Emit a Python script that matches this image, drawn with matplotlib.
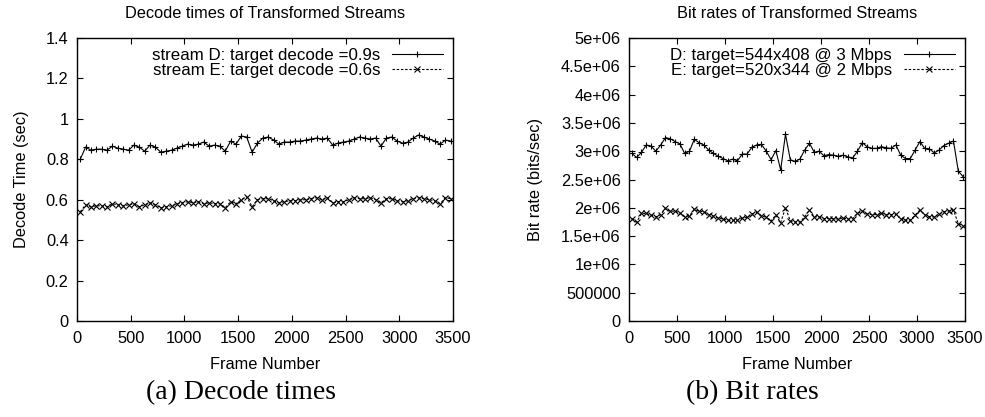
import numpy as np
import matplotlib
matplotlib.use("Agg")
import matplotlib.pyplot as plt

plt.rcParams['font.family'] = ['Liberation Sans', 'DejaVu Sans']

# ---------------- data ----------------
frames = np.arange(30, 3500, 50)  # 70 sample frames

decode_D = [0.80, 0.86, 0.845, 0.85, 0.85, 0.845, 0.865, 0.855, 0.85, 0.845,
            0.87, 0.86, 0.84, 0.87, 0.86, 0.835, 0.84, 0.845, 0.855, 0.865,
            0.875, 0.87, 0.875, 0.885, 0.865, 0.87, 0.865, 0.84, 0.89, 0.875,
            0.915, 0.91, 0.835, 0.88, 0.905, 0.91, 0.895, 0.875, 0.885, 0.885,
            0.89, 0.89, 0.895, 0.90, 0.905, 0.90, 0.905, 0.87, 0.88, 0.885,
            0.89, 0.90, 0.91, 0.905, 0.90, 0.905, 0.865, 0.905, 0.91, 0.89,
            0.88, 0.885, 0.905, 0.92, 0.91, 0.90, 0.89, 0.875, 0.895, 0.89]

decode_E = [0.54, 0.575, 0.565, 0.57, 0.57, 0.565, 0.58, 0.575, 0.57, 0.575,
            0.58, 0.565, 0.575, 0.585, 0.575, 0.56, 0.565, 0.57, 0.58, 0.585,
            0.59, 0.585, 0.59, 0.58, 0.585, 0.58, 0.58, 0.56, 0.59, 0.58,
            0.60, 0.615, 0.565, 0.60, 0.605, 0.605, 0.595, 0.585, 0.59, 0.595,
            0.595, 0.60, 0.60, 0.605, 0.61, 0.60, 0.61, 0.585, 0.59, 0.59,
            0.60, 0.61, 0.605, 0.605, 0.61, 0.60, 0.585, 0.605, 0.605, 0.595,
            0.59, 0.595, 0.605, 0.61, 0.605, 0.60, 0.595, 0.58, 0.61, 0.605]

# bit rates in units of 1e6 bits/sec
bitrate_D = [2.96, 2.89, 2.98, 3.11, 3.09, 3.00, 3.11, 3.24, 3.22, 3.17,
             3.13, 2.96, 3.00, 3.21, 3.15, 3.11, 3.02, 2.96, 2.91, 2.87,
             2.83, 2.86, 2.83, 2.95, 2.95, 3.07, 3.11, 3.12, 3.00, 2.85,
             3.01, 2.67, 3.30, 2.85, 2.82, 2.86, 3.02, 3.14, 2.98, 3.00,
             2.92, 2.94, 2.93, 2.91, 2.93, 2.90, 2.88, 3.00, 3.15, 3.08,
             3.05, 3.05, 3.08, 3.06, 3.05, 3.11, 2.93, 2.87, 2.87, 3.02,
             3.17, 3.05, 3.04, 2.97, 3.02, 3.10, 3.14, 3.18, 2.65, 2.55]

bitrate_E = [1.81, 1.75, 1.90, 1.90, 1.87, 1.84, 1.88, 1.99, 1.94, 1.94,
             1.91, 1.84, 1.86, 1.97, 1.94, 1.93, 1.88, 1.85, 1.82, 1.80,
             1.78, 1.78, 1.78, 1.82, 1.83, 1.89, 1.92, 1.86, 1.83, 1.77,
             1.87, 1.74, 2.00, 1.77, 1.75, 1.75, 1.84, 1.96, 1.84, 1.84,
             1.81, 1.81, 1.81, 1.80, 1.82, 1.80, 1.81, 1.90, 1.94, 1.89,
             1.88, 1.88, 1.90, 1.88, 1.88, 1.89, 1.80, 1.78, 1.78, 1.87,
             1.96, 1.88, 1.84, 1.84, 1.89, 1.93, 1.94, 1.96, 1.72, 1.68]

x_ticks = [0, 500, 1000, 1500, 2000, 2500, 3000, 3500]
decode_ticks = [0, 0.2, 0.4, 0.6, 0.8, 1.0, 1.2, 1.4]
decode_tick_labels = ['0', '0.2', '0.4', '0.6', '0.8', '1', '1.2', '1.4']
bit_ticks = [0, 0.5e6, 1e6, 1.5e6, 2e6, 2.5e6, 3e6, 3.5e6, 4e6, 4.5e6, 5e6]
bit_tick_labels = ['0', '500000', '1e+06', '1.5e+06', '2e+06', '2.5e+06',
                   '3e+06', '3.5e+06', '4e+06', '4.5e+06', '5e+06']

label_D1 = 'stream D: target decode =0.9s'
label_E1 = 'stream E: target decode =0.6s'
label_D2 = 'D: target=544x408 @ 3 Mbps'
label_E2 = 'E: target=520x344 @ 2 Mbps'

# ---------------- figure ----------------
W, H = 985, 417
fig = plt.figure(figsize=(W / 100, H / 100), dpi=100)

def axrect(x0, x1, y0, y1):
    return [x0 / W, 1 - y1 / H, (x1 - x0) / W, (y1 - y0) / H]

ax1 = fig.add_axes(axrect(77, 453, 38, 321))
ax2 = fig.add_axes(axrect(629, 965, 38, 321))

fs_tick = 11.8
fs_title = 11.8
fs_leg = 12.2
dash = (0, (2.2, 1.6))

def style(ax):
    ax.tick_params(direction='in', top=True, right=True, length=4,
                   width=0.8, labelsize=fs_tick)
    ax.tick_params(axis='x', pad=7)
    ax.tick_params(axis='y', pad=6)
    for s in ax.spines.values():
        s.set_linewidth(1.0)
    ax.set_xlim(0, 3500)
    ax.set_xticks(x_ticks)
    ax.set_xlabel('Frame Number', fontsize=fs_tick, labelpad=8)

kwD = dict(color='black', linewidth=0.8, linestyle='-', marker='+',
           markersize=5, markeredgewidth=0.8)
kwE = dict(color='black', linewidth=0.8, linestyle=dash, marker='x',
           markersize=4, markeredgewidth=0.8)

legkw = dict(loc='upper right', frameon=False, markerfirst=False, fontsize=fs_leg,
             handlelength=3.0, handletextpad=0.7, labelspacing=0.0,
             borderaxespad=0.2, numpoints=1)

ax1.plot(frames, decode_D, label=label_D1, **kwD)
ax1.plot(frames, decode_E, label=label_E1, **kwE)
style(ax1)
ax1.set_ylim(0, 1.4)
ax1.set_yticks(decode_ticks)
ax1.set_yticklabels(decode_tick_labels)
ax1.set_ylabel('Decode Time (sec)', fontsize=fs_tick, labelpad=12)
ax1.legend(**legkw)

ax2.plot(frames, np.array(bitrate_D) * 1e6, label=label_D2, **kwD)
ax2.plot(frames, np.array(bitrate_E) * 1e6, label=label_E2, **kwE)
style(ax2)
ax2.set_ylim(0, 5e6)
ax2.set_yticks(bit_ticks)
ax2.set_yticklabels(bit_tick_labels)
ax2.set_ylabel('Bit rate (bits/sec)', fontsize=fs_tick, labelpad=13)
ax2.legend(**legkw)

fig.text(265 / W, 1 - 13 / H, 'Decode times of Transformed Streams',
         ha='center', va='center', fontsize=fs_title)
fig.text(797 / W, 1 - 13 / H, 'Bit rates of Transformed Streams',
         ha='center', va='center', fontsize=fs_title)

fig.text(241 / W, 1 - 393 / H, '(a) Decode times', ha='center', va='center',
         fontsize=20, family=['Liberation Serif', 'DejaVu Serif'])
fig.text(752 / W, 1 - 393 / H, '(b) Bit rates', ha='center', va='center',
         fontsize=20, family=['Liberation Serif', 'DejaVu Serif'])

fig.savefig('out.png', dpi=100)
